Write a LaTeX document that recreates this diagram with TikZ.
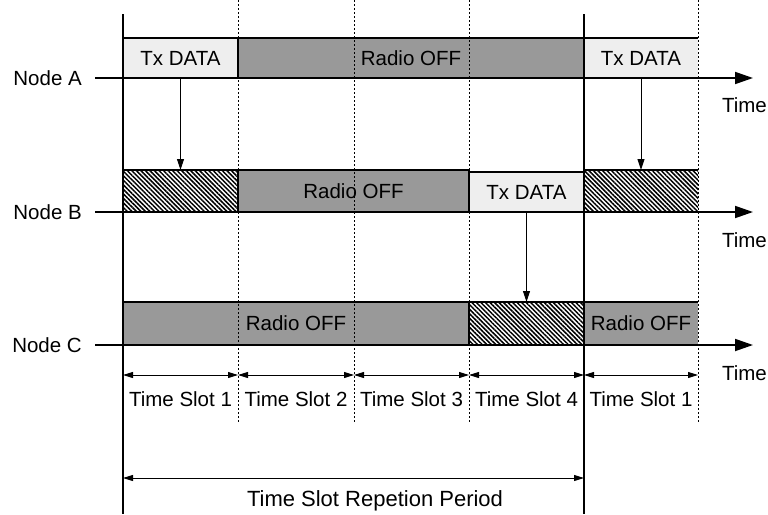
\documentclass[tikz,border=0pt]{standalone}
\usepackage{fontspec}
\setmainfont{Liberation Sans}
\usetikzlibrary{arrows.meta,patterns.meta}
\definecolor{lightbox}{HTML}{EEEEEE}
\definecolor{offbox}{HTML}{999999}
\tikzset{
  slotbox/.style={draw=black, line width=1.1pt, inner sep=0pt, outer sep=0pt, anchor=south west, minimum height=40pt},
  openbox/.style={draw=none, inner sep=0pt, outer sep=0pt, anchor=south west, minimum height=40pt},
  txbox/.style={slotbox, fill=lightbox},
  offbox/.style={slotbox, fill=offbox},
  hatch/.style={fill=white, postaction={pattern={Lines[angle=-45,distance=3.2pt,line width=1.5pt]}}},
  rxbox/.style={slotbox, hatch},
  edge/.style={line width=1.1pt},
  axis/.style={line width=1.8pt, -{Triangle[length=18pt,width=12pt]}},
  msg/.style={line width=1pt, -{Triangle[length=11pt,width=7pt]}},
  span/.style={line width=0.9pt, {Triangle[length=10pt,width=6pt]}-{Triangle[length=10pt,width=6pt]}},
  period/.style={line width=1.8pt},
  slotline/.style={line width=1pt, dash pattern=on 1.5pt off 2.5pt},
  lbl/.style={font=\fontsize{20.5}{24}\selectfont, inner sep=2pt},
}
\begin{document}
\begin{tikzpicture}[x=1pt,y=-1pt]
\useasboundingbox (0,0) rectangle (768,514);
% Node A boxes
\node[txbox, minimum width=115pt] (a1) at (123,78) {};
\node[offbox, minimum width=346pt] (a2) at (238,78) {};
\node[openbox, fill=lightbox, minimum width=114pt] (a3) at (584,78) {};
% Node B boxes
\node[rxbox, minimum width=115pt, minimum height=42pt] (b1) at (123,212) {};
\node[offbox, minimum width=231pt, minimum height=42pt] (b2) at (238,212) {};
\node[txbox, minimum width=115pt, minimum height=40pt] (b3) at (469,212) {};
\node[openbox, hatch, minimum width=114pt, minimum height=42pt] (b4) at (584,212) {};
% Node C boxes
\node[offbox, minimum width=346pt, minimum height=43pt] (c1) at (123,345) {};
\node[rxbox, minimum width=115pt, minimum height=43pt] (c2) at (469,345) {};
\node[openbox, fill=offbox, minimum width=114pt, minimum height=43pt] (c3) at (584,345) {};
\draw[edge] (a3.north west) -- (a3.north east);
\draw[edge] (b4.north west) -- (b4.north east);
\draw[edge] (c3.north west) -- (c3.north east);
% slot boundaries (drawn over the boxes)
\foreach \n/\x in {d1/238,d2/354,d3/469,d4/698}{
  \coordinate (\n t) at (\x,0);
  \coordinate (\n b) at (\x,422);
  \draw[slotline] (\n t) -- (\n b);
}
% labels in boxes
\node[lbl] (ta1) at (a1.center) {Tx DATA};
\node[lbl] (ta2) at (a2.center) {Radio OFF};
\node[lbl] (ta3) at (a3.center) {Tx DATA};
\node[lbl] (tb2) at (b2.center) {Radio OFF};
\node[lbl] (tb3) at (b3.center) {Tx DATA};
\node[lbl] (tc1) at (c1.center) {Radio OFF};
\node[lbl] (tc3) at (c3.center) {Radio OFF};
% repetition lines
\coordinate (p1t) at (123,14); \coordinate (p1b) at (123,514);
\coordinate (p2t) at (584,14); \coordinate (p2b) at (584,514);
\draw[period] (p1t) -- (p1b);
\draw[period] (p2t) -- (p2b);
% axes
\node[lbl, anchor=east] (nA) at (84,78) {Node A};
\node[lbl, anchor=east] (nB) at (84,212) {Node B};
\node[lbl, anchor=east] (nC) at (84,345) {Node C};
\coordinate (eA) at (753,78);
\coordinate (eB) at (753,212);
\coordinate (eC) at (753,345);
\draw[axis] (95,78) coordinate (sA) -- (eA);
\draw[axis] (95,212) coordinate (sB) -- (eB);
\draw[axis] (95,345) coordinate (sC) -- (eC);
\node[lbl, anchor=east] (tA) at (769,105) {Time};
\node[lbl, anchor=east] (tB) at (769,240) {Time};
\node[lbl, anchor=east] (tC) at (769,373) {Time};
% messages
\draw[msg] (a1.south) -- (b1.north);
\draw[msg] (a3.south) -- (b4.north);
\draw[msg] (b3.south) -- (c2.north);
% time slots
\foreach \i/\xa/\xb/\t in {1/123/238/1, 2/238/354/2, 3/354/469/3, 4/469/584/4, 5/584/698/1}{
  \coordinate (s\i a) at (\xa,375);
  \coordinate (s\i b) at (\xb,375);
  \draw[span] (s\i a) -- (s\i b);
  \node[lbl] (sl\i) at ({(\xa+\xb)/2},399) {Time Slot \t};
}
% repetition period
\coordinate (ra) at (123,478);
\coordinate (rb) at (584,478);
\draw[span] (ra) -- (rb);
\node[lbl, font=\fontsize{22}{26}\selectfont] (rl) at (375,501) {Time Slot Repetion Period};
\end{tikzpicture}
\end{document}
